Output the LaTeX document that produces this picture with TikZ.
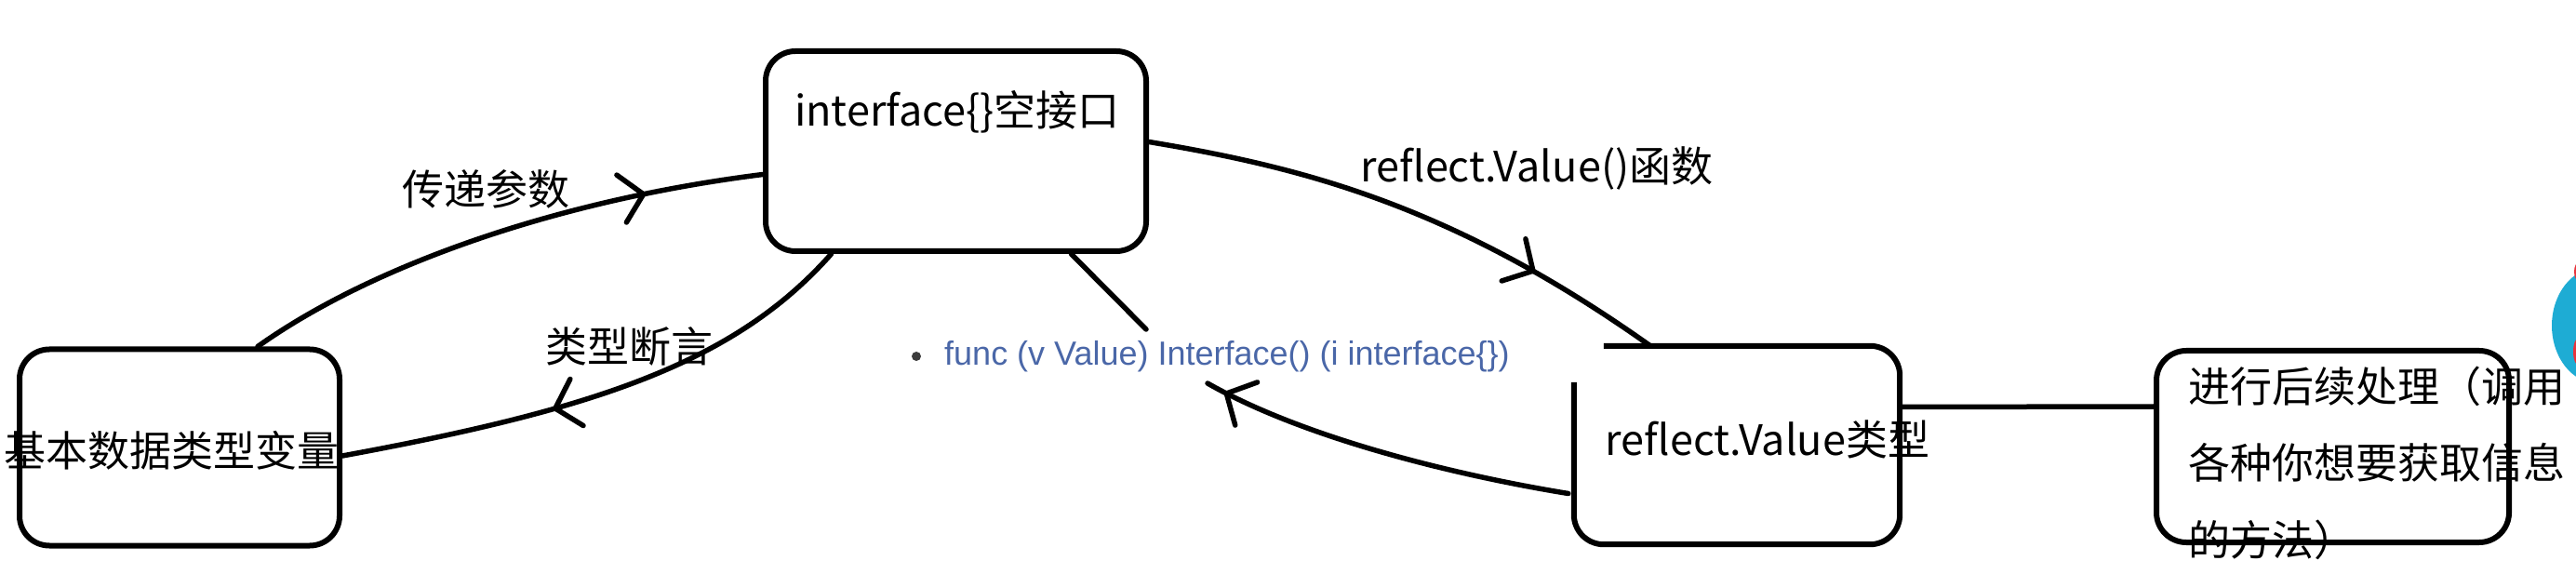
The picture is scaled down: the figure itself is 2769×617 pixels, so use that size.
\documentclass[tikz,border=0pt]{standalone}
\usepackage{fontspec}
\newfontfamily\cjkfont{Noto Sans CJK SC}
\newfontfamily\arialfont{Liberation Sans}
\usetikzlibrary{arrows.meta,decorations.markings,calc}
\definecolor{funcblue}{RGB}{74,103,168}
\definecolor{bulletgray}{RGB}{60,60,60}
\definecolor{blobteal}{RGB}{30,172,212}
\definecolor{blobred}{RGB}{232,52,60}
\tikzset{
  box/.style={draw, line width=6pt, rounded corners=32pt, inner sep=0pt},
  outline/.style={draw, line width=6pt, rounded corners=32pt},
  txt/.style={inner sep=0pt, font=\cjkfont\fontsize{45}{54}\selectfont},
  conn/.style={draw, line width=5.5pt, line cap=round},
  mid arrow/.style={postaction={decorate},
    decoration={markings, mark=at position #1 with {\arrow{Straight Barb[round,length=24pt,width=52pt]}}}}
}
\begin{document}
\begin{tikzpicture}[x=1pt,y=-1pt]
\useasboundingbox (0,0) rectangle (2769,617);
\clip (0,0) rectangle (2769,617);
\fill[white] (0,0) rectangle (2769,617);

% boxes
\node[box, minimum width=344pt, minimum height=211pt] (A) at (193,481) {};
\node[box, minimum width=409pt, minimum height=215pt] (B) at (1027.5,162.5) {};
\node[inner sep=0pt, minimum width=350pt, minimum height=213pt] (C) at (1867,478.5) {};
\draw[outline] ($(C.north west)+(32,0)$) -- (C.north east) -- (C.south east) -- (C.south west) -- ($(C.north west)+(0,39)$);
\node[box, minimum width=379pt, minimum height=206pt] (D) at (2507.5,480) {};

% box texts
\node[txt] (tA) at (185,484) {基本数据类型变量};
\node[txt] (tB) at (1029,120) {interface\{\}空接口};
\node[txt] (tC) at (1900,472) {reflect.Value类型};
\node[txt, anchor=west] (tD1) at (2352,415) {进行后续处理（调用};
\node[txt, anchor=west] (tD2) at (2352,497) {各种你想要获取信息};
\node[txt, anchor=west] (tD3) at (2352,580) {的方法）};

% labels
\node[txt] (l1) at (522,203) {传递参数};
\node[txt] (l2) at (676,372) {类型断言};
\node[txt] (l3) at (1652,181) {reflect.Value()函数};

% blue function line
\node[circle, fill=bulletgray, inner sep=0pt, minimum size=10pt] (bul) at (985,383) {};
\node[inner sep=0pt, anchor=west, font=\arialfont\fontsize{36}{42}\selectfont, text=funcblue] (fn) at (1015,383) {func (v Value) Interface() (i interface\{\})};

% free ends
\coordinate (e4) at (1232,354);
\coordinate (e5) at (1298,412);

% connectors
\draw[conn, mid arrow=0.78] ($(A.north)+(84,0)$) .. controls (400,285) and (600,215) .. ($(B.west)+(0,25)$);
\draw[conn, mid arrow=0.6] ($(B.south)+(-134,0)$) .. controls (790,390) and (640,440) .. ($(A.east)+(0,9)$);
\draw[conn, mid arrow=0.75] ($(B.east)+(0,-10)$) .. controls (1400,180) and (1560,220) .. ($(C.north)+(-93,0)$);
\draw[conn] ($(B.south)+(124,0)$) -- (e4);
\draw[conn, mid arrow=0.95] ($(C.west)+(-6,52)$) .. controls (1560,510) and (1400,470) .. (e5);
\draw[conn] ($(C.east)+(0,-41)$) -- ($(D.west)+(0,-43)$);

% partial logo at right edge
\fill[blobteal] (2792,350) ellipse [x radius=49, y radius=62];
\fill[blobred] (2772,292) ellipse [x radius=5, y radius=10];
\fill[blobred] (2771,378) ellipse [x radius=5, y radius=14];
\end{tikzpicture}
\end{document}
